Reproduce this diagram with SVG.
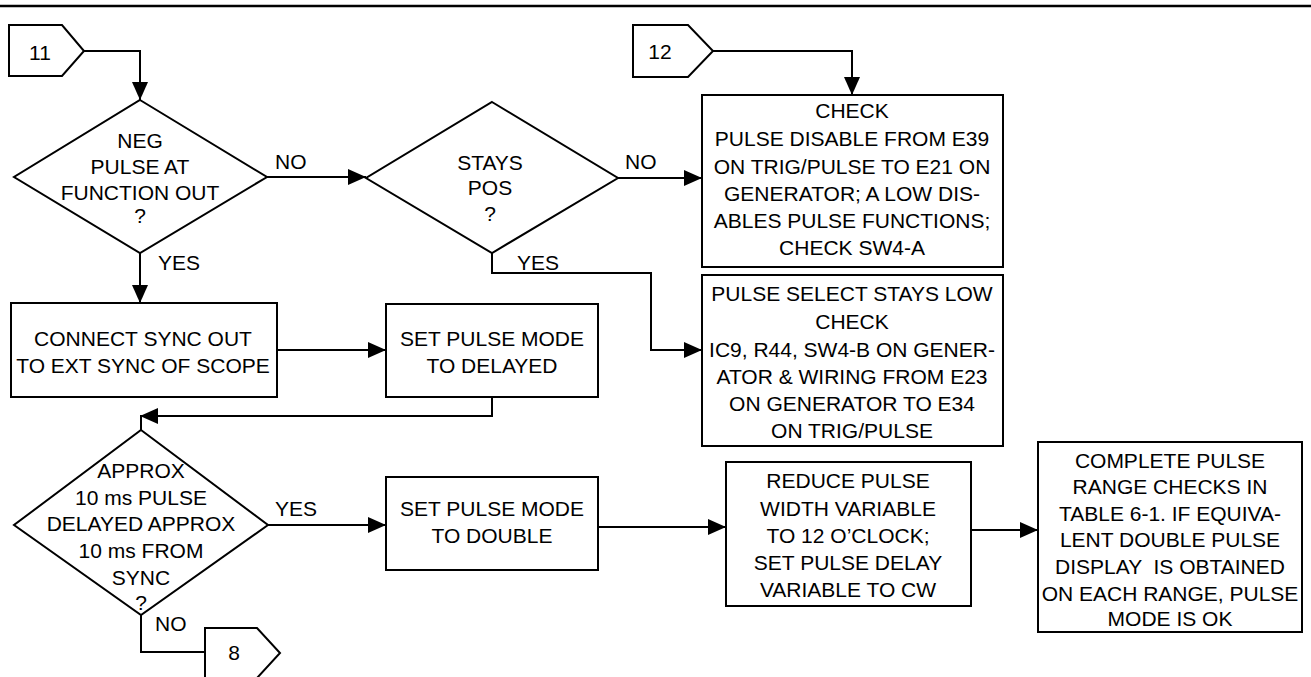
<svg xmlns="http://www.w3.org/2000/svg" width="1311" height="677" viewBox="0 0 1311 677">
<style>
  .shape { fill: #fff; stroke: #000; stroke-width: 2; }
  .conn { fill: none; stroke: #000; stroke-width: 2; }
  text { font-family: "Liberation Sans", Arial, sans-serif; font-size: 21px; fill: #000; }
  .c { text-anchor: middle; }
  .pre { white-space: pre; }
</style>
<defs>
  <marker id="arr" markerUnits="userSpaceOnUse" markerWidth="18" markerHeight="16" refX="18" refY="8" orient="auto" viewBox="0 0 18 16">
    <path d="M0,0 L18,8 L0,16 Z" fill="#000"/>
  </marker>
</defs>
<rect width="1311" height="677" fill="#fff"/>
<line x1="0" y1="6" x2="1311" y2="6" stroke="#000" stroke-width="2.5"/>

<g id="connectors">
  <path class="conn" d="M84,51 H140 V100" marker-end="url(#arr)"/>
  <path class="conn" d="M267,177 H366" marker-end="url(#arr)"/>
  <path class="conn" d="M618,178 H702" marker-end="url(#arr)"/>
  <path class="conn" d="M713,51 H852 V95" marker-end="url(#arr)"/>
  <path class="conn" d="M492,253 V273 H651 V350 H702" marker-end="url(#arr)"/>
  <path class="conn" d="M140,253 V303" marker-end="url(#arr)"/>
  <path class="conn" d="M277,350 H386" marker-end="url(#arr)"/>
  <path class="conn" d="M492,397 V416 H140" marker-end="url(#arr)"/>
  <path class="conn" d="M141,416 V430"/>
  <path class="conn" d="M268,525 H386" marker-end="url(#arr)"/>
  <path class="conn" d="M598,527 H726" marker-end="url(#arr)"/>
  <path class="conn" d="M971,530 H1038" marker-end="url(#arr)"/>
  <path class="conn" d="M141,615 V652 H205"/>
  <text x="275" y="169">NO</text>
  <text x="625" y="169">NO</text>
  <text x="158" y="270">YES</text>
  <text x="517" y="270">YES</text>
  <text x="275" y="516">YES</text>
  <text x="155" y="631">NO</text>
</g>

<g id="conn11">
  <polygon class="shape" points="9,25 62,25 84,51 62,76 9,76"/>
  <text class="c" x="40" y="60">11</text>
</g>

<g id="conn12">
  <polygon class="shape" points="633,25 688,25 713,51 688,77 633,77"/>
  <text class="c" x="660" y="59">12</text>
</g>

<g id="conn8">
  <polygon class="shape" points="205,628 257,628 280,653 257,678 205,678"/>
  <text class="c" x="234" y="660">8</text>
</g>

<g id="d1">
  <polygon class="shape" points="140,100 267,177 140,253 14,177"/>
  <text class="c" x="140" y="148">NEG</text>
  <text class="c" x="140" y="174">PULSE AT</text>
  <text class="c" x="140" y="200">FUNCTION OUT</text>
  <text class="c" x="140" y="223">?</text>
</g>

<g id="d2">
  <polygon class="shape" points="492,102 618,178 492,253 366,178"/>
  <text class="c" x="490" y="170">STAYS</text>
  <text class="c" x="490" y="195">POS</text>
  <text class="c" x="490" y="221">?</text>
</g>

<g id="check">
  <rect class="shape" x="702" y="95" width="301" height="172"/>
  <text class="c" x="852" y="118">CHECK</text>
  <text class="c" x="852" y="146">PULSE DISABLE FROM E39</text>
  <text class="c" x="852" y="174">ON TRIG/PULSE TO E21 ON</text>
  <text class="c" x="852" y="201">GENERATOR; A LOW DIS-</text>
  <text class="c" x="852" y="228">ABLES PULSE FUNCTIONS;</text>
  <text class="c" x="852" y="255">CHECK SW4-A</text>
</g>

<g id="pulseselect">
  <rect class="shape" x="702" y="275" width="301" height="171"/>
  <text class="c" x="852" y="301">PULSE SELECT STAYS LOW</text>
  <text class="c" x="852" y="329">CHECK</text>
  <text class="c" x="852" y="357">IC9, R44, SW4-B ON GENER-</text>
  <text class="c" x="852" y="384">ATOR &amp; WIRING FROM E23</text>
  <text class="c" x="852" y="411">ON GENERATOR TO E34</text>
  <text class="c" x="852" y="438">ON TRIG/PULSE</text>
</g>

<g id="connect">
  <rect class="shape" x="11" y="303" width="266" height="94"/>
  <text class="c" x="143" y="346">CONNECT SYNC OUT</text>
  <text class="c" x="143" y="373">TO EXT SYNC OF SCOPE</text>
</g>

<g id="delayed">
  <rect class="shape" x="386" y="304" width="212" height="93"/>
  <text class="c" x="492" y="346">SET PULSE MODE</text>
  <text class="c" x="492" y="373">TO DELAYED</text>
</g>

<g id="d3">
  <polygon class="shape" points="141,430 268,525 141,615 14,525"/>
  <text class="c" x="141" y="478">APPROX</text>
  <text class="c" x="141" y="505">10 ms PULSE</text>
  <text class="c" x="141" y="531">DELAYED APPROX</text>
  <text class="c" x="141" y="558">10 ms FROM</text>
  <text class="c" x="141" y="585">SYNC</text>
  <text class="c" x="141" y="610">?</text>
</g>

<g id="double">
  <rect class="shape" x="386" y="477" width="212" height="93"/>
  <text class="c" x="492" y="516">SET PULSE MODE</text>
  <text class="c" x="492" y="543">TO DOUBLE</text>
</g>

<g id="reduce">
  <rect class="shape" x="726" y="462" width="245" height="144"/>
  <text class="c" x="848" y="488">REDUCE PULSE</text>
  <text class="c" x="848" y="516">WIDTH VARIABLE</text>
  <text class="c" x="848" y="543">TO 12 O’CLOCK;</text>
  <text class="c" x="848" y="570">SET PULSE DELAY</text>
  <text class="c" x="848" y="597">VARIABLE TO CW</text>
</g>

<g id="complete">
  <rect class="shape" x="1038" y="442" width="264" height="190"/>
  <text class="c" x="1170" y="468">COMPLETE PULSE</text>
  <text class="c" x="1170" y="494">RANGE CHECKS IN</text>
  <text class="c" x="1170" y="521">TABLE 6-1. IF EQUIVA-</text>
  <text class="c" x="1170" y="547">LENT DOUBLE PULSE</text>
  <text class="c pre" x="1170" y="574">DISPLAY  IS OBTAINED</text>
  <text class="c" x="1170" y="601">ON EACH RANGE, PULSE</text>
  <text class="c" x="1170" y="626">MODE IS OK</text>
</g>
</svg>
